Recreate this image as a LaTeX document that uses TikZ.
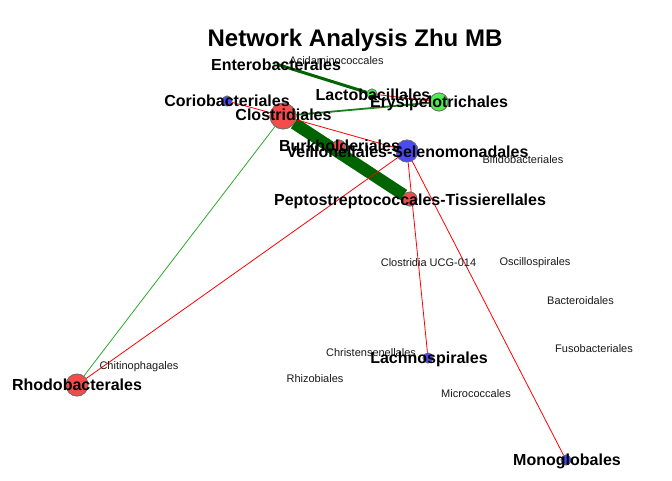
\documentclass[tikz,border=0pt]{standalone}
\usepackage{fontspec}
\setmainfont{Liberation Sans}
\definecolor{nred}{HTML}{F44B4B}
\definecolor{nblue}{HTML}{4B4BF4}
\definecolor{ngreen}{HTML}{4BF04B}
\definecolor{nborder}{HTML}{6E6E6E}
\definecolor{dgreen}{HTML}{006400}
\definecolor{mgreen}{HTML}{1E7E1E}
\definecolor{lgreen}{HTML}{2CA82C}
\tikzset{
  vn/.style={circle, draw=nborder, line width=0.7pt, inner sep=0pt, minimum size=#1},
  lbl/.style={inner sep=0pt, font=\bfseries\fontsize{16}{16}\selectfont},
  slbl/.style={inner sep=0pt, font=\fontsize{11}{11}\selectfont, text=black!90},
  redge/.style={draw=red, line width=0.8pt},
}
\begin{document}
\begin{tikzpicture}[x=1pt,y=-1pt]
\useasboundingbox (0,0) rectangle (672,480);
\node[inner sep=0pt, font=\bfseries\fontsize{24}{24}\selectfont] (title) at (355,40) {Network Analysis Zhu MB};

% vertices (positions)
\node[vn=4, fill=ngreen] (ent) at (276,64) {};
\node[vn=10, fill=ngreen] (lac) at (372,94) {};
\node[vn=18, fill=ngreen] (ery) at (439,102) {};
\node[vn=10, fill=nblue] (cor) at (227,101) {};
\node[vn=26, fill=nred] (clo) at (283,116) {};
\node[vn=12, fill=nred] (bur) at (339,146) {};
\node[vn=22, fill=nblue] (vei) at (407,151) {};
\node[vn=14, fill=nred] (pep) at (410,199) {};
\node[vn=10, fill=nblue] (lach) at (428,358) {};
\node[vn=22, fill=nred] (rho) at (77,385) {};
\node[vn=10, fill=nblue] (mono) at (566,460) {};

% edges
\draw[dgreen, line width=12pt] (clo) -- (pep);
\draw[dgreen, line width=3pt] (ent) -- (lac);
\draw[mgreen, line width=1.8pt] (clo) -- (ery);
\draw[lgreen, line width=0.8pt] (clo) -- (rho);
\draw[redge] (lac) -- (ery);
\draw[redge] (cor) -- (clo);
\draw[redge] (clo) -- (vei);
\draw[redge] (vei) -- (rho);
\draw[redge] (vei) -- (lach);
\draw[redge] (vei) -- (mono);

% vertices drawn again on top of the edges
\node[vn=4, fill=ngreen] (ent2) at (ent) {};
\node[vn=10, fill=ngreen] (lac2) at (lac) {};
\node[vn=18, fill=ngreen] (ery2) at (ery) {};
\node[vn=10, fill=nblue] (cor2) at (cor) {};
\node[vn=26, fill=nred] (clo2) at (clo) {};
\node[vn=12, fill=nred] (bur2) at (bur) {};
\node[vn=22, fill=nblue] (vei2) at (vei) {};
\node[vn=14, fill=nred] (pep2) at (pep) {};
\node[vn=10, fill=nblue] (lach2) at (lach) {};
\node[vn=22, fill=nred] (rho2) at (rho) {};
\node[vn=10, fill=nblue] (mono2) at (mono) {};

% small labels
\node[slbl] (lacid) at (336.5,61) {Acidaminococcales};
\node[slbl] (lbif) at (523,160) {Bifidobacteriales};
\node[slbl] (lucg) at (428.5,263) {Clostridia UCG-014};
\node[slbl] (losc) at (535,263) {Oscillospirales};
\node[slbl] (lbac) at (580.5,301) {Bacteroidales};
\node[slbl] (lchr) at (371,353) {Christensenellales};
\node[slbl] (lfus) at (594,349) {Fusobacteriales};
\node[slbl] (lchi) at (139,367) {Chitinophagales};
\node[slbl] (lrhi) at (315,379) {Rhizobiales};
\node[slbl] (lmic) at (476,394) {Micrococcales};

% bold labels
\node[lbl] (lent) at (276,65) {Enterobacterales};
\node[lbl] (lcor) at (227,101) {Coriobacteriales};
\node[lbl] (lclo) at (283.5,115) {Clostridiales};
\node[lbl] (llac) at (373,95) {Lactobacillales};
\node[lbl] (lery) at (439,103) {Erysipelotrichales};
\node[lbl] (lbur) at (339.5,146) {Burkholderiales};
\node[lbl] (lvei) at (407.5,152) {Veillonellales-Selenomonadales};
\node[lbl] (lpep) at (410,201) {Peptostreptococcales-Tissierellales};
\node[lbl] (llach) at (429,359) {Lachnospirales};
\node[lbl] (lrho) at (77,385) {Rhodobacterales};
\node[lbl] (lmono) at (567,461) {Monoglobales};
\end{tikzpicture}
\end{document}
